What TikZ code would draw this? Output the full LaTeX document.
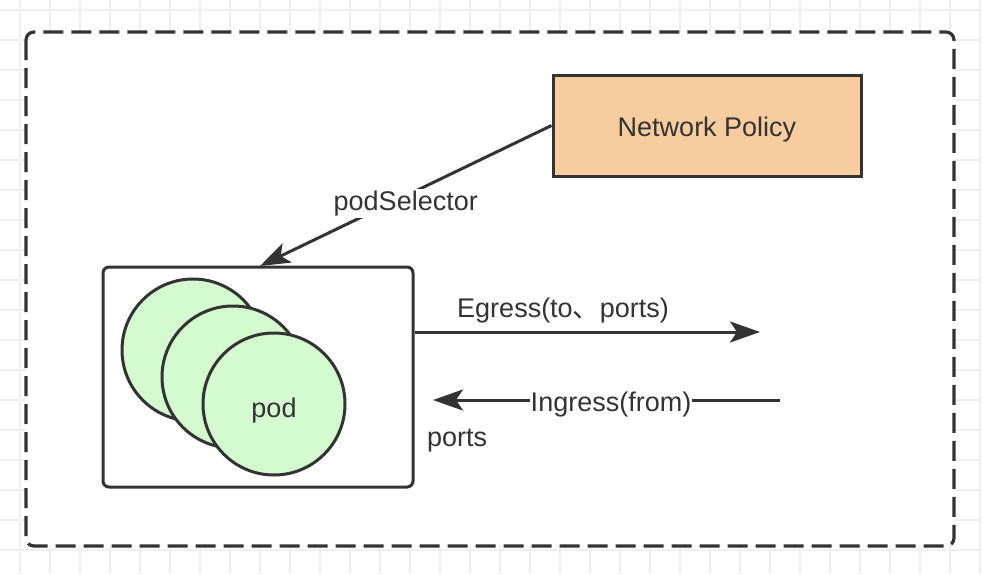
\documentclass[tikz,border=0pt]{standalone}
\usepackage{fontspec}
\setmainfont{Liberation Sans}
\newfontfamily\cjk{Noto Sans CJK SC}
\usetikzlibrary{arrows.meta}
\definecolor{ink}{HTML}{333333}
\definecolor{gridc}{HTML}{EFEFEF}
\definecolor{npfill}{HTML}{F7CC9E}
\definecolor{podfill}{HTML}{D4FACF}
\tikzset{
  lbl/.style={text=ink, font=\fontsize{27}{31}\selectfont, inner sep=2pt},
  conn/.style={draw=ink, line width=3pt, -{Stealth[length=30pt,width=21pt,inset=7pt]}},
  podc/.style={circle, draw=ink, line width=3pt, fill=podfill, minimum size=142pt, inner sep=0pt},
}
\begin{document}
\begin{tikzpicture}[x=1pt,y=-1pt]
\useasboundingbox (0,0) rectangle (982,574);
\fill[white] (0,0) rectangle (982,574);
% grid
\foreach \gx in {20,50,...,980} \draw[gridc, line width=1.5pt] (\gx,0) -- (\gx,574);
\foreach \gy in {10,40,...,570} \draw[gridc, line width=1.5pt] (0,\gy) -- (982,\gy);
% container
\draw[ink, line width=3.2pt, fill=white, rounded corners=8pt, dash pattern=on 20pt off 8pt] (26,32) rectangle (954,546);
% network policy
\node[draw=ink, line width=3pt, fill=npfill, minimum width=308pt, minimum height=101pt, lbl] (np) at (707,125.5) {\smash{\raisebox{-11pt}{Network Policy}}};
% pod box
\node[draw=ink, line width=3pt, fill=white, rounded corners=6pt, minimum width=310pt, minimum height=220pt] (box) at (258,377) {};
\node[podc] (c1) at (193,350) {};
\node[podc] (c2) at (233,377) {};
\node[podc, lbl] (c3) at (274,404) {\smash{\raisebox{-13pt}{pod}}};
% connectors
\coordinate (seltip) at (260,266);
\draw[conn] (np.west) -- node[lbl, fill=white, pos=0.5, yshift=-8pt] {podSelector} (seltip);
\coordinate (egend) at (760,332);
\draw[conn] (egend -| box.east) -- (egend);
\node[lbl] (eglbl) at (563,311) {Egress(to{\cjk 、}ports)};
\coordinate (ingstart) at (780,400);
\coordinate (ingend) at (433,400);
\draw[conn] (ingstart) -- (ingend);
\node[lbl, fill=white, inner sep=1pt] (inglbl) at (611,405) {Ingress(from)};
\node[lbl, anchor=west, inner sep=0pt] (ports) at (427,441) {ports};
\end{tikzpicture}
\end{document}
